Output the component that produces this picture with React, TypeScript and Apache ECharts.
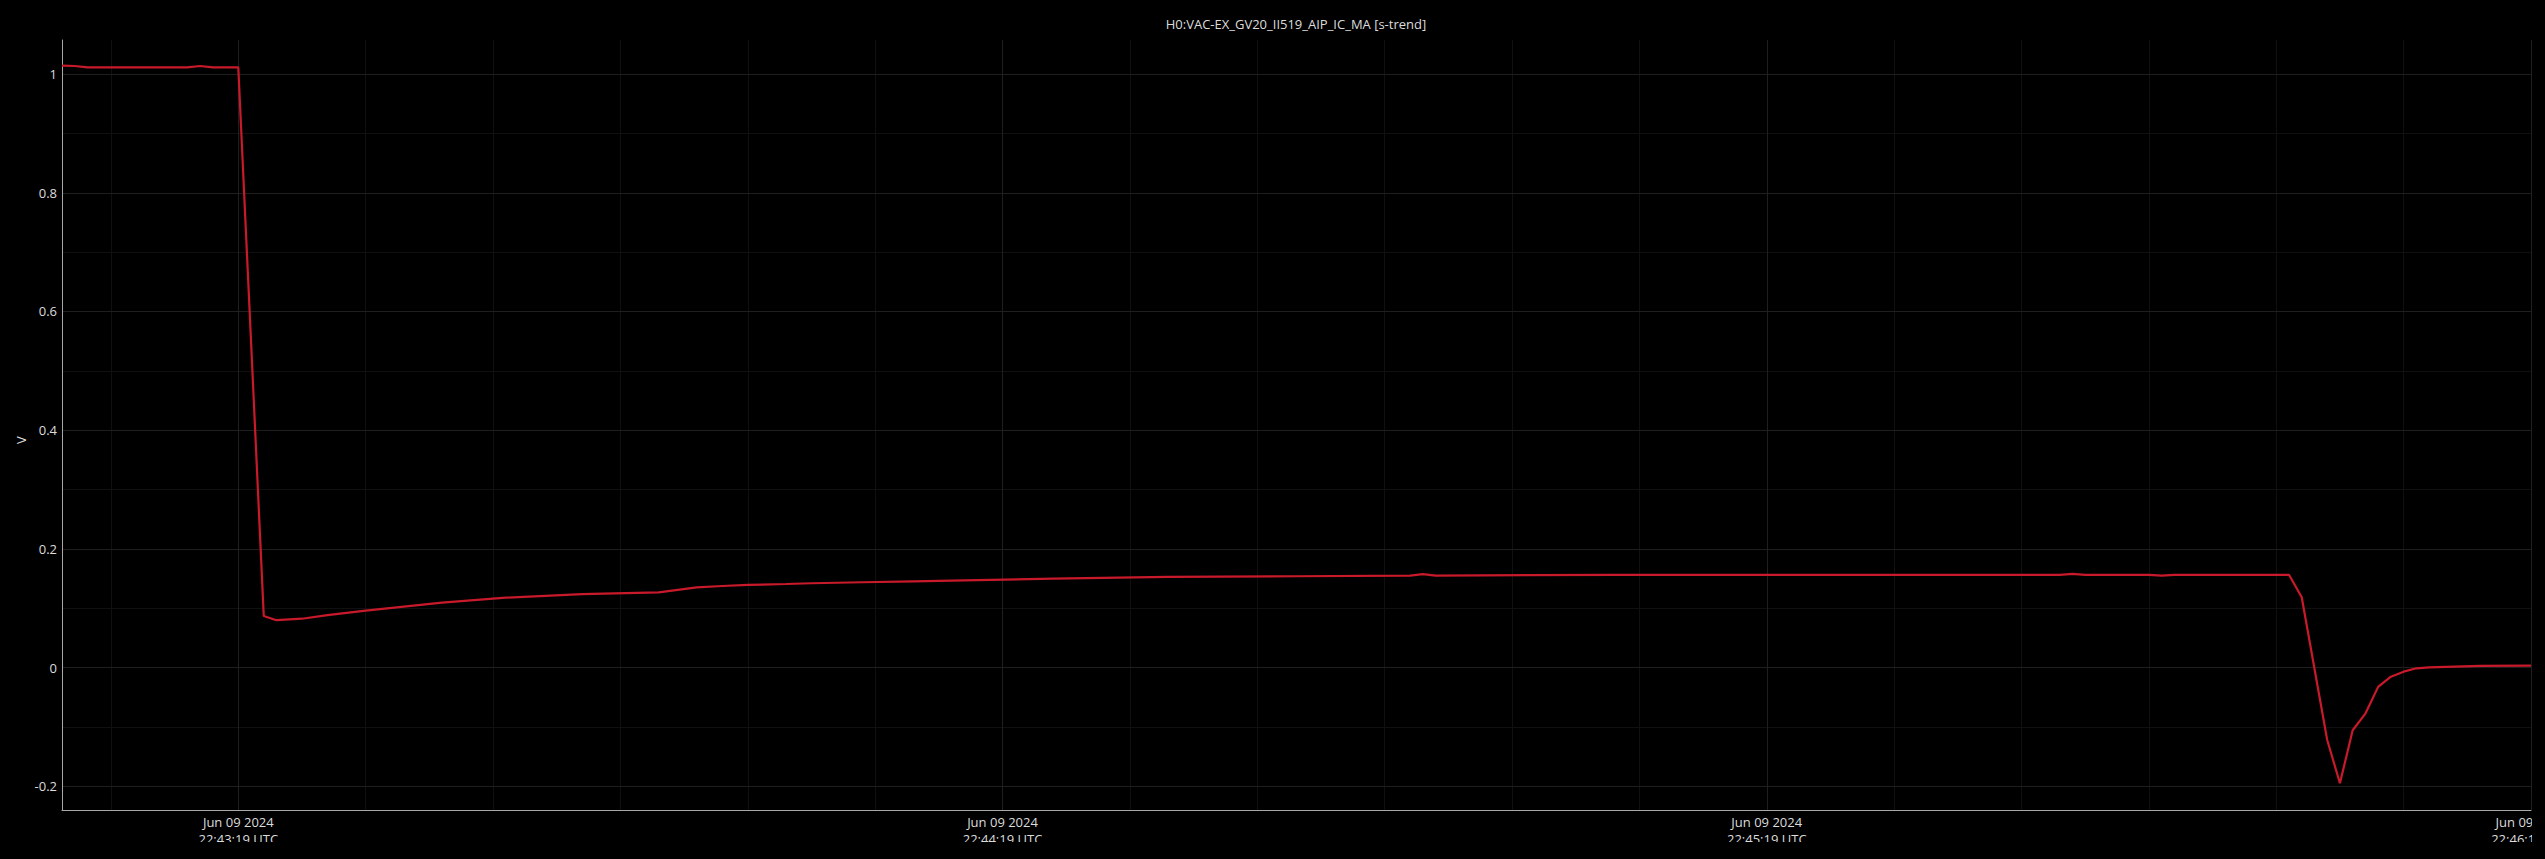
import React, { useEffect, useRef } from 'react';
import * as echarts from 'echarts';

const TITLE = 'H0:VAC-EX_GV20_II519_AIP_IC_MA [s-trend]';
const Y_NAME = 'V';
const BASE_TIME_UTC = Date.UTC(2024, 5, 9, 22, 43, 19);
const X_MIN_SEC = -13.84;
const X_MAX_SEC = 180;
const Y_MIN = -0.2397;
const Y_MAX = 1.0573;

// seconds relative to 22:43:19 UTC
const timeSec = [
  -13.84, -12.84, -11.84, -4, -3, -2, 0, 1, 2, 3, 5, 7, 10, 16, 21, 27, 33, 36, 38, 40, 43, 45, 49, 53, 57,
  64, 73, 83, 92, 93, 94, 108, 143, 144, 145, 150, 151, 152, 161,
  162, 164, 165, 166, 167, 168, 169, 170, 171, 172, 176, 180,
];
const voltage = [
  1.014, 1.0135, 1.0113, 1.0113, 1.0135, 1.0113, 1.0113, 0.55, 0.087, 0.08, 0.0825, 0.0887, 0.096, 0.1095, 0.118,
  0.124, 0.127, 0.1354, 0.1376, 0.1394, 0.141, 0.1422, 0.1439, 0.1455, 0.1472,
  0.15, 0.153, 0.154, 0.155, 0.1575, 0.1552, 0.1565, 0.1565, 0.158, 0.1565, 0.1565, 0.1552, 0.1565, 0.1565,
  0.1186, -0.1218, -0.1947, -0.1054, -0.0773, -0.0323, -0.0152, -0.0067, -0.001, 0.0007, 0.0029, 0.0034,
];

const xMajorTicksSec = [0, 60, 120, 180];
const xMinorTicksSec = [-10, 10, 20, 30, 40, 50, 70, 80, 90, 100, 110, 130, 140, 150, 160, 170];
const yMajorTicks = [-0.2, 0, 0.2, 0.4, 0.6, 0.8, 1];
const yMinorTicks = [-0.1, 0.1, 0.3, 0.5, 0.7, 0.9];

const MONTHS = ['Jan', 'Feb', 'Mar', 'Apr', 'May', 'Jun', 'Jul', 'Aug', 'Sep', 'Oct', 'Nov', 'Dec'];
const pad = (n: number) => (n < 10 ? '0' + n : '' + n);
const toMs = (s: number) => BASE_TIME_UTC + s * 1000;
function fmtTime(ms: number): string {
  const d = new Date(Math.round(ms / 1000) * 1000);
  return (
    `${MONTHS[d.getUTCMonth()]} ${pad(d.getUTCDate())} ${d.getUTCFullYear()}\n` +
    `${pad(d.getUTCHours())}:${pad(d.getUTCMinutes())}:${pad(d.getUTCSeconds())} UTC`
  );
}

const FONT = "'Open Sans', 'Noto Sans', sans-serif";
const TEXT_COLOR = '#dcdcdc';
const MAJOR_GRID = '#1f1f1f';
const MINOR_GRID = '#101010';
const AXIS_COLOR = '#a8a8a8';

export default function App() {
  const ref = useRef<HTMLDivElement>(null);
  useEffect(() => {
    document.body.style.margin = '0';
    document.body.style.background = '#000';
    document.documentElement.style.background = '#000';
    if (!ref.current) return;
    const chart = echarts.init(ref.current, undefined, { renderer: 'svg' });
    const data = timeSec.map((t, i) => [toMs(t), voltage[i]]);
    const xMin = toMs(X_MIN_SEC);
    const xMax = toMs(X_MAX_SEC);
    chart.setOption({
      animation: false,
      backgroundColor: '#000',
      grid: { left: 62, top: 40, right: 1, bottom: 32, containLabel: false, outerBoundsMode: 'none' },
      graphic: [
        {
          type: 'text',
          x: 1296,
          y: 24,
          style: { text: TITLE, align: 'center', verticalAlign: 'middle', fill: TEXT_COLOR, font: `13px ${FONT}` },
        },
        {
          type: 'text',
          x: 21,
          y: 440,
          rotation: Math.PI / 2,
          style: { text: Y_NAME, align: 'center', verticalAlign: 'middle', fill: TEXT_COLOR, font: `13px ${FONT}` },
        },
      ],
      xAxis: [
        {
          type: 'value',
          min: xMin,
          max: xMax,
          position: 'bottom',
          axisLine: { show: true, onZero: false, lineStyle: { color: AXIS_COLOR, width: 1 } },
          axisTick: { show: false, customValues: xMajorTicksSec.map(toMs) },
          axisLabel: {
            customValues: xMajorTicksSec.map(toMs),
            formatter: (v: number) => fmtTime(v),
            color: TEXT_COLOR,
            fontFamily: FONT,
            fontSize: 13,
            lineHeight: 16.5,
            margin: 4,
            align: 'center',
          },
          splitLine: { show: true, lineStyle: { color: MAJOR_GRID, width: 1 } },
          z: 3,
        },
        {
          type: 'value',
          min: xMin,
          max: xMax,
          position: 'bottom',
          axisLine: { show: false },
          axisTick: { show: false, customValues: xMinorTicksSec.map(toMs) },
          axisLabel: { show: false, customValues: xMinorTicksSec.map(toMs) },
          splitLine: { show: true, lineStyle: { color: MINOR_GRID, width: 1 } },
          z: 1,
        },
      ],
      yAxis: [
        {
          type: 'value',
          min: Y_MIN,
          max: Y_MAX,
          position: 'left',
          axisLine: { show: true, onZero: false, lineStyle: { color: AXIS_COLOR, width: 1 } },
          axisTick: { show: false, customValues: yMajorTicks },
          axisLabel: {
            customValues: yMajorTicks,
            formatter: (v: number) => String(+v.toFixed(1)),
            color: TEXT_COLOR,
            fontFamily: FONT,
            fontSize: 13,
            margin: 5,
          },
          splitLine: { show: true, lineStyle: { color: MAJOR_GRID, width: 1 } },
          z: 3,
        },
        {
          type: 'value',
          min: Y_MIN,
          max: Y_MAX,
          position: 'left',
          axisLine: { show: false },
          axisTick: { show: false, customValues: yMinorTicks },
          axisLabel: { show: false, customValues: yMinorTicks },
          splitLine: { show: true, lineStyle: { color: MINOR_GRID, width: 1 } },
          z: 1,
        },
      ],
      series: [
        {
          type: 'line',
          xAxisIndex: 0,
          yAxisIndex: 0,
          data,
          showSymbol: false,
          symbol: 'none',
          lineStyle: { color: '#c81a2a', width: 2.2 },
          z: 5,
        },
      ],
    });
    return () => chart.dispose();
  }, []);
  return <div ref={ref} style={{ width: 2532, height: 842 }} />;
}
